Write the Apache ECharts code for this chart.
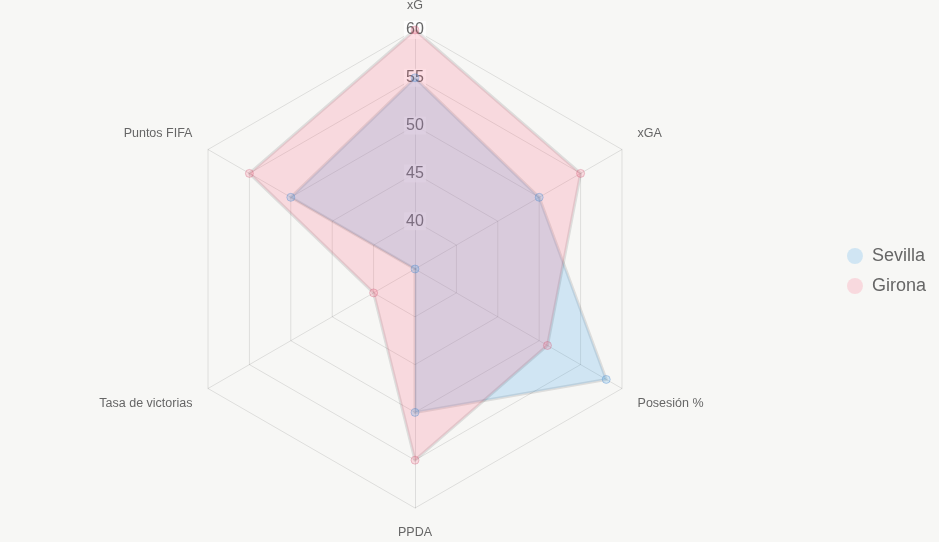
<!DOCTYPE html>
<html>
<head>
<meta charset="utf-8">
<script src="https://cdn.jsdelivr.net/npm/echarts@6/dist/echarts.min.js"></script>
<style>
html,body{margin:0;padding:0;background:#f7f7f5;}
#radar{width:939px;height:542px;}
</style>
</head>
<body>
<div id="radar"></div>
<script>
// ejes en el orden de ECharts (antihorario desde arriba)
var ejes = ['xG', 'Puntos FIFA', 'Tasa de victorias', 'PPDA', 'Posesión %', 'xGA'];
var sevilla = [55, 50, 35, 50, 58.1, 50];
var girona = [60, 55, 40, 55, 51, 55];
var equipos = ['Sevilla', 'Girona'];
var ticks = [40, 45, 50, 55, 60];

var fuente = 'Liberation Sans, Arial, sans-serif';
var chart = echarts.init(document.getElementById('radar'));

var indicador = ejes.map(function (n, i) {
	var o = {name: n, min: 35, max: ticks[ticks.length - 1]};
	if (i == 0) {
		o.axisLabel = {
			show: true,
			showMinLabel: false,
			color: '#666',
			fontSize: 16,
			fontFamily: fuente,
			align: 'center',
			verticalAlign: 'middle',
			margin: 0,
			backgroundColor: 'rgba(255,255,255,0.75)',
			padding: [1, 2]
		};
	}
	return o;
});

// desplazar un poco las etiquetas laterales (arriba / abajo)
function nombre(n) {
	var i = ejes.indexOf(n);
	if (i == 1 || i == 5) return '{arr|' + n + '}';
	if (i == 2 || i == 4) return '{abj|' + n + '}';
	return '{n|' + n + '}';
}

chart.setOption({
	backgroundColor: '#f7f7f5',
	legend: {
		data: equipos,
		orient: 'vertical',
		right: 8,
		top: 'middle',
		icon: 'circle',
		itemWidth: 16,
		itemHeight: 16,
		itemGap: 12,
		textStyle: {color: '#666', fontSize: 18, fontFamily: fuente, padding: [0, 0, 0, 4]}
	},
	radar: {
		center: [415, 269],
		radius: 239,
		startAngle: 90,
		shape: 'polygon',
		splitNumber: 5,
		indicator: indicador,
		nameGap: 18,
		axisName: {
			color: '#666',
			fontSize: 12.5,
			fontFamily: fuente,
			formatter: nombre,
			rich: {
				n: {color: '#666', fontSize: 12.5, fontFamily: fuente},
				arr: {color: '#666', fontSize: 12.5, fontFamily: fuente, padding: [0, 0, 14, 0]},
				abj: {color: '#666', fontSize: 12.5, fontFamily: fuente, padding: [12, 0, 0, 0]}
			}
		},
		axisLabel: {show: false},
		axisLine: {lineStyle: {color: 'rgba(0,0,0,0.1)'}},
		splitLine: {lineStyle: {color: 'rgba(0,0,0,0.1)'}},
		splitArea: {show: false}
	},
	series: [{
		type: 'radar',
		symbol: 'circle',
		symbolSize: 8,
		data: [{
			name: 'Sevilla',
			value: sevilla,
			itemStyle: {color: 'rgba(54,162,235,0.2)', borderColor: 'rgba(54,120,200,0.3)'},
			lineStyle: {color: 'rgba(0,0,0,0.1)', width: 3},
			areaStyle: {color: 'rgba(54,162,235,0.2)', opacity: 1}
		}, {
			name: 'Girona',
			value: girona,
			itemStyle: {color: 'rgba(255,99,132,0.2)', borderColor: 'rgba(200,80,110,0.3)'},
			lineStyle: {color: 'rgba(0,0,0,0.1)', width: 3},
			areaStyle: {color: 'rgba(255,99,132,0.2)', opacity: 1}
		}]
	}]
});
</script>
</body>
</html>
